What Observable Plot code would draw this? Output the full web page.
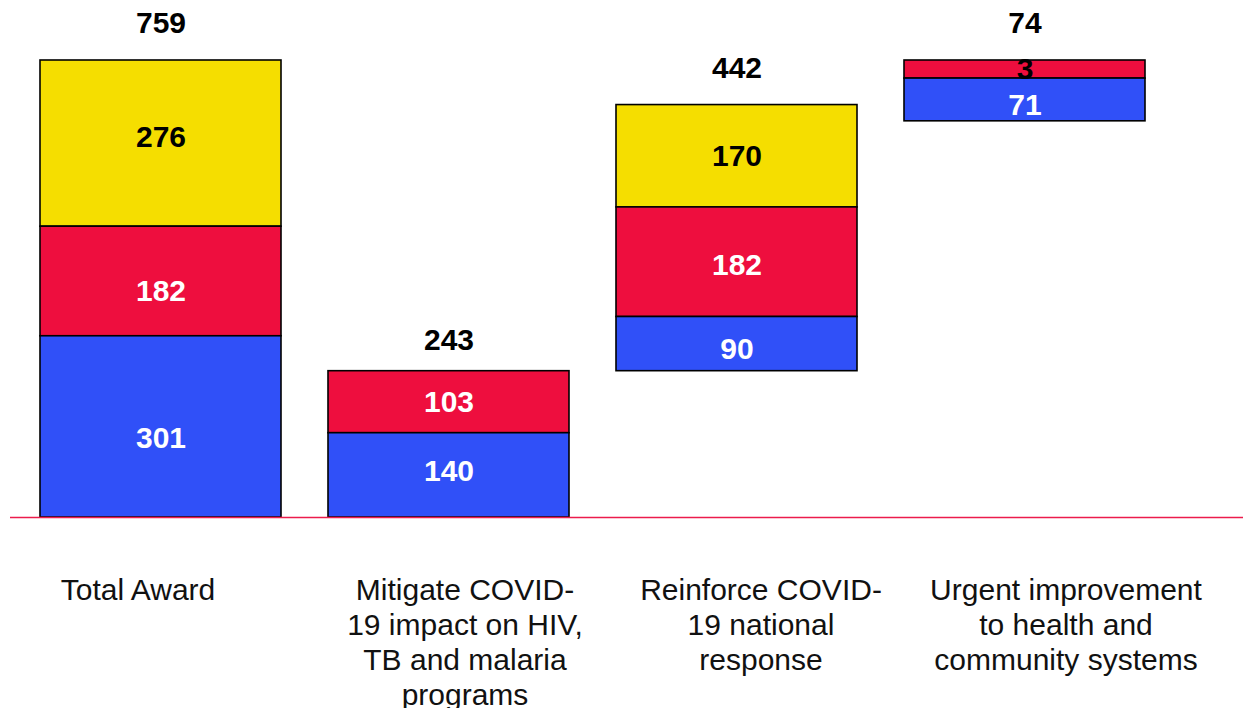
<!DOCTYPE html>
<html><head><meta charset="utf-8">
<script src="https://cdn.jsdelivr.net/npm/d3@7"></script>
<script src="https://cdn.jsdelivr.net/npm/@observablehq/plot@0.6"></script>
<style>html,body{margin:0;padding:0;background:#fff;overflow:hidden}</style>
</head><body><div id="chart"></div>
<script>
// categories (x) and their wrapped display labels
const categories = ["Total Award", "Mitigate", "Reinforce", "Urgent"];
const categoryLabels = [
  "Total Award",
  "Mitigate COVID-\n19 impact on HIV,\nTB and malaria\nprograms",
  "Reinforce COVID-\n19 national\nresponse",
  "Urgent improvement\nto health and\ncommunity systems"
];
// series values (bottom to top: blue, red, yellow)
const blueValues   = [301, 140, 90, 71];
const redValues    = [182, 103, 182, 3];
const yellowValues = [276, 0, 170, 0];
const totals       = [759, 243, 442, 74];

// style / layout constants (not data)
const colors = {blue: "#3050f8", red: "#ee0e3e", yellow: "#f5de00"};
const minDrawn = 30;               // small segments drawn taller so their label fits
const labelShift = [-23, 16, 24, 41];
const segNudge = {"Total Award|yellow": -6, "Total Award|red": 10, "Total Award|blue": 12,
  "Mitigate|blue": -4, "Reinforce|red": 3, "Reinforce|blue": 5, "Urgent|blue": 5};
const topNudge = [0, 6, 0, 0];

// waterfall: first bar is the total, next bars step up from the running sum
const tops = [];
let running = 0;
categories.forEach((c, i) => {
  if (i === 0) tops.push(totals[0]);
  else { running += totals[i]; tops.push(running); }
});

const segments = [];
categories.forEach((c, i) => {
  let cur = tops[i];
  [["yellow", yellowValues[i]], ["red", redValues[i]], ["blue", blueValues[i]]].forEach(([s, v]) => {
    if (!v) return;
    const h = Math.max(v, minDrawn);
    segments.push({cat: c, series: s, value: v, y1: cur - h, y2: cur,
      fill: colors[s], text: (s === "yellow" || v < 10) ? "#000" : "#fff"});
    cur -= h;
  });
});
const topLabels = categories.map((c, i) => ({cat: c, y: tops[i], label: totals[i]}));

const font = "'Liberation Sans', Arial, Helvetica, sans-serif";
const y = Plot.scale({y: {domain: [0, 759], range: [517, 60]}});

const chart = Plot.plot({
  width: 1243, height: 708,
  marginTop: 60, marginBottom: 191, marginLeft: 10, marginRight: 0,
  x: {domain: categories, paddingInner: 0.1632, paddingOuter: 0.2222, align: 0.2344, axis: null},
  y: {domain: [0, 759], axis: null},
  color: {type: "identity"},
  style: {fontFamily: font, background: "white", overflow: "visible"},
  marks: [
    Plot.barY(segments, {x: "cat", y1: "y1", y2: "y2", fill: "fill", stroke: "#000", strokeWidth: 1.6}),
    Plot.ruleY([0], {stroke: "#ec1c4c", strokeWidth: 1.4}),
    ...segments.map(d => Plot.text([d], {x: "cat", y: s => (s.y1 + s.y2) / 2, text: s => String(s.value),
      dy: segNudge[d.cat + "|" + d.series] || 0,
      fill: "text", fontSize: 30, fontWeight: "bold", lineAnchor: "middle"})),
    ...topLabels.map((d, i) => Plot.text([d], {x: "cat", y: "y", text: s => String(s.label), dy: -37 + topNudge[i],
      fill: "#000", fontSize: 30, fontWeight: "bold", lineAnchor: "middle"})),
    ...categories.map((c, i) => Plot.text([{cat: c, label: categoryLabels[i]}], {
      x: "cat", y: () => 0, text: "label", dx: labelShift[i], dy: 58,
      lineAnchor: "top", lineHeight: 1.167, fontSize: 30, fill: "#111", textAnchor: "middle"
    }))
  ]
});
document.getElementById("chart").appendChild(chart);
</script>
</body></html>
